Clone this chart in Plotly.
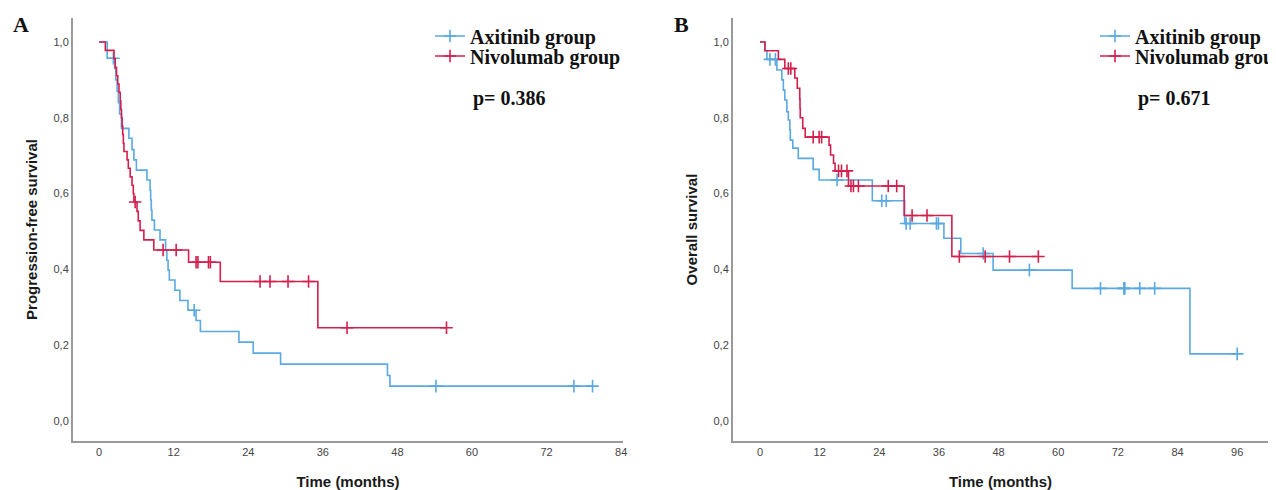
import plotly.graph_objects as go

# ---------------- data ----------------
# Panel A: progression-free survival
pfs_axi_t = [0, 1.3, 2.5, 2.7, 2.9, 3.1, 3.3, 3.6, 4.8, 5.3, 5.6, 6.0, 7.7, 8.2, 8.3, 8.4, 8.5,
             8.9, 9.8, 10.7, 10.9, 11.1, 11.3, 12.2, 13.0, 14.3, 15.6, 16.3, 22.5, 24.8, 29.2, 46.4, 46.8]
pfs_axi_s = [1.0, 0.957, 0.930, 0.900, 0.870, 0.840, 0.810, 0.772, 0.746, 0.716, 0.689, 0.662, 0.636,
             0.609, 0.583, 0.556, 0.530, 0.504, 0.478, 0.451, 0.424, 0.398, 0.372, 0.345, 0.318, 0.292,
             0.265, 0.236, 0.208, 0.179, 0.150, 0.120, 0.092]
pfs_axi_cens = [2.3, 15.3, 54.2, 76.4, 79.4]

pfs_niv_t = [0, 1.0, 2.4, 2.6, 2.8, 3.0, 3.2, 3.4, 3.5, 3.6, 3.7, 3.8, 3.9, 4.0, 4.5, 4.7, 5.0, 5.3,
             5.5, 5.6, 6.1, 6.3, 6.6, 7.2, 8.8, 14.4, 19.5, 35.2]
pfs_niv_s = [1.0, 0.978, 0.956, 0.933, 0.911, 0.889, 0.867, 0.844, 0.822, 0.800, 0.778, 0.756, 0.733,
             0.711, 0.689, 0.667, 0.644, 0.622, 0.600, 0.578, 0.553, 0.528, 0.503, 0.478, 0.451, 0.419,
             0.368, 0.246]
pfs_niv_cens = [5.8, 10.3, 12.4, 15.6, 15.9, 17.6, 17.9, 25.9, 27.5, 30.4, 33.7, 39.9, 55.9]

# Panel B: overall survival
os_axi_t = [0, 1.0, 1.4, 3.4, 4.4, 4.7, 5.0, 5.4, 5.7, 6.0, 6.1, 6.6, 7.7, 10.7, 11.9, 22.6, 29.1,
            37.0, 40.4, 46.9, 62.8, 86.5]
os_axi_s = [1.0, 0.977, 0.954, 0.926, 0.900, 0.873, 0.847, 0.816, 0.794, 0.768, 0.741, 0.720, 0.693,
            0.664, 0.636, 0.581, 0.521, 0.482, 0.442, 0.398, 0.350, 0.177]
os_axi_cens = [2.0, 3.1, 15.5, 24.5, 25.4, 29.4, 30.2, 35.5, 35.9, 44.9, 54.2, 68.5, 73.2, 73.4,
               76.4, 79.4, 96.0]

os_niv_t = [0, 1.0, 3.7, 5.0, 7.0, 7.5, 8.0, 8.05, 8.1, 8.6, 9.1, 13.9, 14.2, 14.8, 15.1, 17.8,
            29.0, 38.6]
os_niv_s = [1.0, 0.977, 0.954, 0.930, 0.905, 0.878, 0.850, 0.825, 0.800, 0.772, 0.749, 0.728, 0.702,
            0.680, 0.660, 0.620, 0.542, 0.434]
os_niv_cens = [5.7, 6.2, 10.7, 11.9, 12.4, 15.8, 16.4, 17.5, 18.3, 18.8, 19.8, 25.8, 27.5, 30.6,
               33.6, 40.1, 45.3, 50.2, 56.0]

group_names = ["Axitinib group", "Nivolumab group"]
p_values = ["p= 0.386", "p= 0.671"]
x_ticks_a = [0, 12, 24, 36, 48, 60, 72, 84]
x_ticks_b = [0, 12, 24, 36, 48, 60, 72, 84, 96]
y_ticks = [0.0, 0.2, 0.4, 0.6, 0.8, 1.0]
y_ticktext = ["0,0", "0,2", "0,4", "0,6", "0,8", "1,0"]

BLUE = "#5aa9e0"
RED = "#d41f4d"

# the page body has an 8 px margin; keep the figure inside the window width
OFF = 8
W, H = 1276 - 2 * OFF, 490 - OFF


def px(xp):
    return (xp - OFF) / W


def py(yp):
    return 1 - (yp - OFF) / H


def surv_at(times, survs, t):
    s = survs[0]
    for ti, si in zip(times, survs):
        if ti <= t:
            s = si
    return s


fig = go.Figure()


def add_group(times, survs, cens, color, xa, ya, name, legend):
    end = max(cens + [times[-1]])
    fig.add_trace(go.Scatter(
        x=times + [end], y=survs + [survs[-1]], mode="lines", line=dict(color=color, width=1.6, shape="hv"),
        xaxis=xa, yaxis=ya, showlegend=False, hoverinfo="skip"))
    cx, cy = [], []
    for c in cens:
        cx += [c, None]
        cy += [surv_at(times, survs, c), None]
    fig.add_trace(go.Scatter(
        x=cx, y=cy, mode="lines+markers", connectgaps=False, name=name, legend=legend,
        line=dict(color=color, width=1.6),
        marker=dict(symbol="cross-thin", size=9, line=dict(color=color, width=1.6)),
        xaxis=xa, yaxis=ya, showlegend=True))


add_group(pfs_axi_t, pfs_axi_s, pfs_axi_cens, BLUE, "x", "y", group_names[0], "legend")
add_group(pfs_niv_t, pfs_niv_s, pfs_niv_cens, RED, "x", "y", group_names[1], "legend2")
add_group(os_axi_t, os_axi_s, os_axi_cens, BLUE, "x2", "y2", group_names[0], "legend3")
add_group(os_niv_t, os_niv_s, os_niv_cens, RED, "x2", "y2", group_names[1], "legend4")

tickfont = dict(family="Liberation Sans", size=11, color="#444444")
titlefont = dict(family="Liberation Sans", size=15, color="#1a1a1a", weight="bold")
axis_common = dict(showgrid=False, zeroline=False, showline=True, linecolor="#9a9a9a", linewidth=2,
                   ticks="", tickfont=tickfont, fixedrange=True, automargin=False)

ydom = [py(441), py(18)]
yrange = [-0.0528, 1.0633]

legend_font = dict(family="Liberation Serif", size=20, color="#111111", weight="bold")


def leg(xp, yp):
    return dict(x=px(xp), y=py(yp), xanchor="left", yanchor="middle", font=legend_font,
                bgcolor="rgba(0,0,0,0)", borderwidth=0, itemwidth=30)


fig.update_layout(
    width=W, height=H, margin=dict(l=0, r=0, t=0, b=0, autoexpand=False),
    paper_bgcolor="white", plot_bgcolor="white",
    xaxis=dict(domain=[px(73), px(623)], range=[-4.2, 84.3], tickvals=x_ticks_a,
               title=dict(text="Time (months)", font=titlefont, standoff=19), anchor="y", **axis_common),
    yaxis=dict(domain=ydom, range=yrange, tickvals=y_ticks, ticktext=y_ticktext,
               title=dict(text="Progression-free survival", font=titlefont, standoff=12), anchor="x",
               **axis_common),
    xaxis2=dict(domain=[px(733), 1.0], range=[-5.43, 102.2], tickvals=x_ticks_b,
                title=dict(text="Time (months)", font=titlefont, standoff=19), anchor="y2", **axis_common),
    yaxis2=dict(domain=ydom, range=yrange, tickvals=y_ticks, ticktext=y_ticktext,
                title=dict(text="Overall survival", font=titlefont, standoff=12), anchor="x2",
                **axis_common),
    legend=leg(430, 36), legend2=leg(430, 56), legend3=leg(1095, 36), legend4=leg(1095, 56),
    annotations=[
        dict(text=p_values[0], x=px(471), y=py(98), xref="paper", yref="paper", xanchor="left",
             yanchor="middle", showarrow=False, font=legend_font),
        dict(text=p_values[1], x=px(1136), y=py(98), xref="paper", yref="paper", xanchor="left",
             yanchor="middle", showarrow=False, font=legend_font),
        dict(text="A", x=px(21), y=py(25), xref="paper", yref="paper", xanchor="center",
             yanchor="middle", showarrow=False,
             font=dict(family="Liberation Serif", size=22, color="#111111", weight="bold")),
        dict(text="B", x=px(681), y=py(25), xref="paper", yref="paper", xanchor="center",
             yanchor="middle", showarrow=False,
             font=dict(family="Liberation Serif", size=22, color="#111111", weight="bold")),
    ],
)

fig.write_html("out.html")
